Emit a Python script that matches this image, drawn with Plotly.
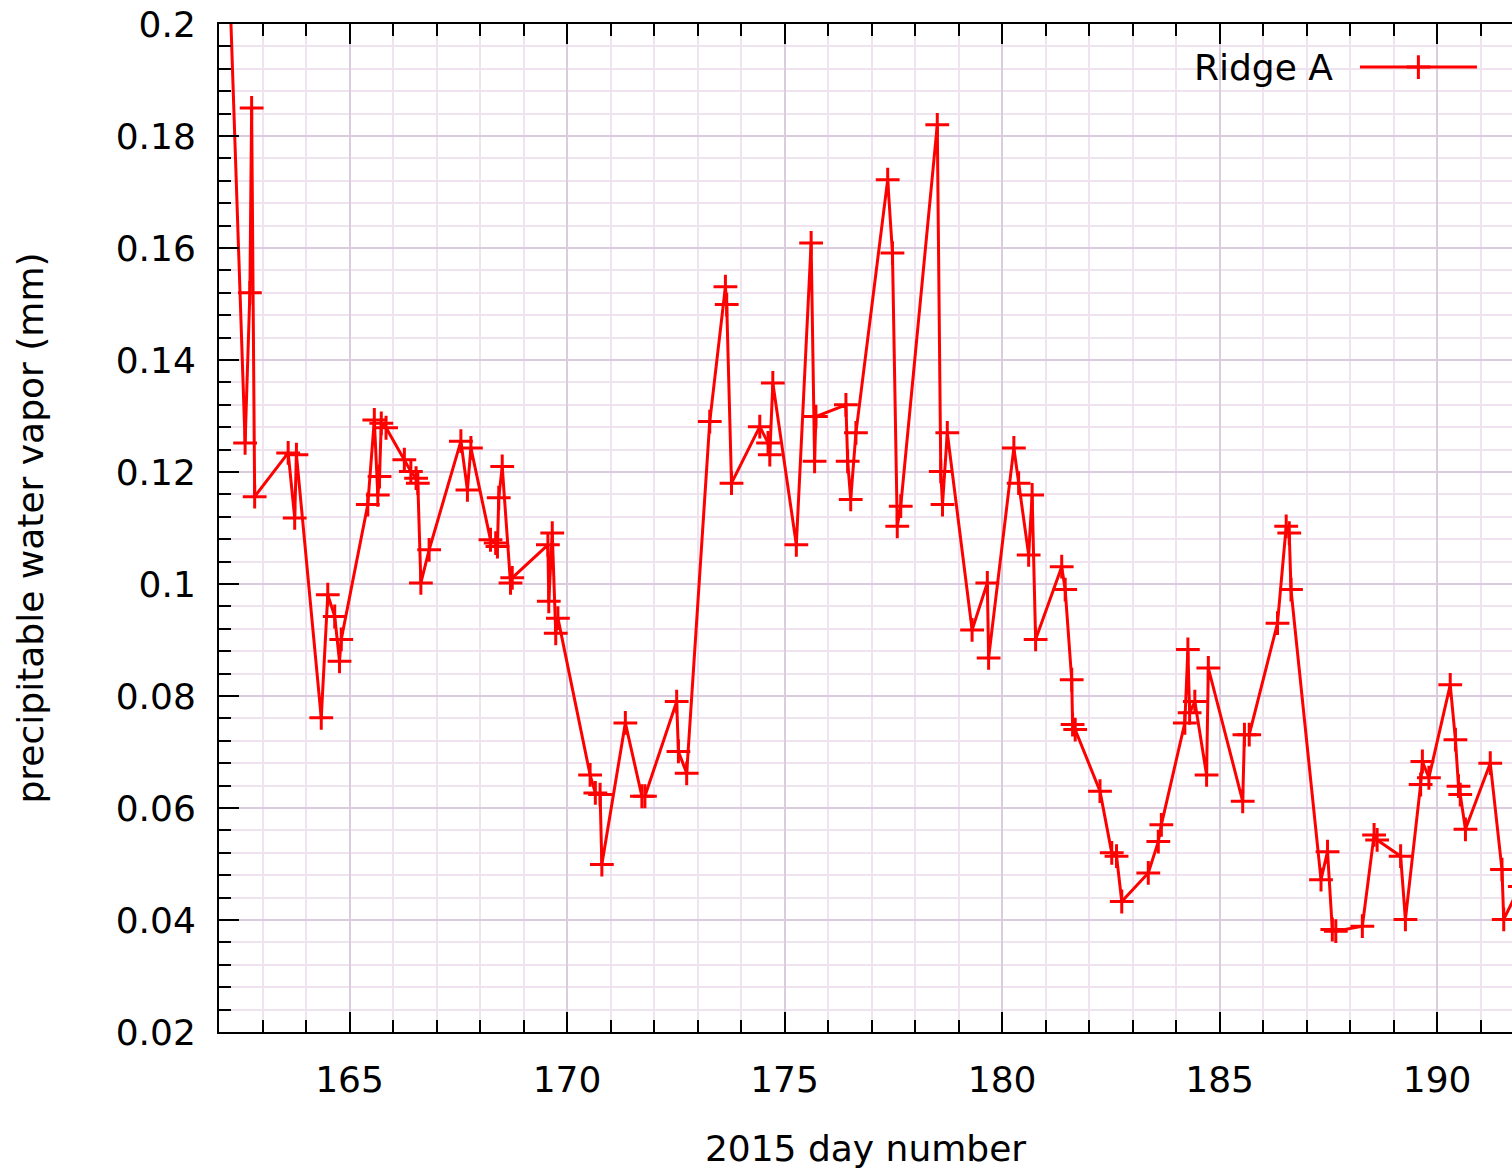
import plotly.graph_objects as go

# ---- data ----
day = [162.21, 162.60, 162.71, 162.75, 162.82, 163.59, 163.74, 163.78, 164.35, 164.50,
       164.66, 164.77, 164.81, 165.42, 165.57, 165.65, 165.69, 165.73, 165.84, 166.26,
       166.41, 166.53, 166.57, 166.64, 166.83, 167.56, 167.71, 167.79, 168.24, 168.36,
       168.40, 168.43, 168.51, 168.70, 168.74, 169.56, 169.58, 169.66, 169.74, 169.79,
       170.53, 170.65, 170.76, 170.80, 171.34, 171.72, 171.79, 172.52, 172.56, 172.75,
       173.28, 173.64, 173.67, 173.78, 174.43, 174.62, 174.66, 174.73, 175.27, 175.61,
       175.69, 175.72, 176.41, 176.45, 176.52, 176.64, 177.37, 177.48, 177.59, 177.67,
       178.51, 178.59, 178.63, 178.74, 179.31, 179.66, 179.69, 180.27, 180.38, 180.61,
       180.69, 180.77, 181.37, 181.45, 181.60, 181.62, 181.68, 182.25, 182.52, 182.63,
       182.75, 183.36, 183.59, 183.66, 184.20, 184.27, 184.31, 184.43, 184.70, 184.74,
       185.53, 185.57, 185.68, 186.33, 186.53, 186.60, 186.64, 187.33, 187.48, 187.59,
       187.67, 188.28, 188.55, 188.62, 189.16, 189.27, 189.62, 189.66, 189.81, 190.30,
       190.42, 190.49, 190.53, 190.65, 191.22, 191.49, 191.53, 191.90]
pwv = [0.215, 0.1252, 0.152, 0.185, 0.1156, 0.1234, 0.1118, 0.1231, 0.0761, 0.0981,
       0.0942, 0.0862, 0.0901, 0.1142, 0.1293, 0.1159, 0.1192, 0.1287, 0.1279, 0.1222,
       0.1201, 0.1189, 0.1180, 0.1002, 0.1061, 0.1255, 0.1168, 0.1243, 0.1079, 0.1073,
       0.1067, 0.1154, 0.1210, 0.1002, 0.1011, 0.1070, 0.0969, 0.1091, 0.0912, 0.0939,
       0.0659, 0.0627, 0.0624, 0.0499, 0.0752, 0.0621, 0.0621, 0.0790, 0.0701, 0.0662,
       0.1290, 0.1531, 0.1499, 0.1180, 0.1281, 0.1252, 0.1231, 0.1359, 0.1070, 0.1609,
       0.1219, 0.1299, 0.1320, 0.1219, 0.1151, 0.1270, 0.1722, 0.1591, 0.1103, 0.1139,
       0.1820, 0.1201, 0.1142, 0.1270, 0.0918, 0.1002, 0.0868, 0.1243, 0.1180, 0.1052,
       0.1159, 0.0901, 0.1031, 0.0990, 0.0829, 0.0749, 0.0740, 0.0630, 0.0520, 0.0514,
       0.0433, 0.0484, 0.0540, 0.0570, 0.0752, 0.0883, 0.0770, 0.0790, 0.0659, 0.0850,
       0.0612, 0.0731, 0.0731, 0.0930, 0.1103, 0.1091, 0.0990, 0.0472, 0.0522, 0.0383,
       0.0380, 0.0389, 0.0552, 0.0543, 0.0514, 0.0401, 0.0642, 0.0683, 0.0654, 0.0820,
       0.0722, 0.0639, 0.0624, 0.0562, 0.0680, 0.0490, 0.0401, 0.0460]

x_ticks = [165, 170, 175, 180, 185, 190]
y_ticks = [0.02, 0.04, 0.06, 0.08, 0.1, 0.12, 0.14, 0.16, 0.18, 0.2]
y_tick_text = ["0.02", "0.04", "0.06", "0.08", "0.1", "0.12", "0.14", "0.16", "0.18", "0.2"]
series_name = "Ridge A"

RED = "#ff0000"
FONT = "DejaVu Sans"
MAJOR_GRID = "#dacbdf"
MINOR_GRID = "#eee3ef"
LW = 3
MARKER = dict(symbol="cross-thin", size=17, color=RED, line=dict(color=RED, width=3))

fig = go.Figure()
fig.add_trace(go.Scatter(
    x=day, y=pwv, mode="lines+markers", name=series_name,
    line=dict(color=RED, width=LW), marker=MARKER,
    showlegend=False, cliponaxis=True,
))

# legend sample (gnuplot style: text left, sample right) drawn on an overlay 0..1 axis pair
fig.add_trace(go.Scatter(
    x=[0.8824, 0.9729], y=[0.9573, 0.9573], xaxis="x2", yaxis="y2",
    mode="lines", line=dict(color=RED, width=LW), showlegend=False, hoverinfo="skip",
))
fig.add_trace(go.Scatter(
    x=[0.9276], y=[0.9573], xaxis="x2", yaxis="y2",
    mode="markers", marker=MARKER, showlegend=False, hoverinfo="skip",
))

fig.update_layout(
    width=1512, height=1169,
    margin=dict(l=219, r=0, t=24, b=137, autoexpand=False),
    paper_bgcolor="white", plot_bgcolor="white",
    font=dict(family=FONT, size=36, color="black"),
    showlegend=False,
    xaxis=dict(
        range=[162, 191.72], tickmode="array", tickvals=x_ticks,
        ticks="inside", ticklen=20, tickwidth=2, tickcolor="black",
        showline=True, linecolor="black", linewidth=2, mirror="ticks",
        showgrid=True, gridcolor=MAJOR_GRID, gridwidth=2,
        zeroline=False, ticklabelstandoff=15, ticklabeloverflow="allow",
        minor=dict(tickmode="linear", tick0=162, dtick=1, ticks="inside", ticklen=12,
                   tickwidth=2, tickcolor="black", showgrid=True, gridcolor=MINOR_GRID, gridwidth=1.5),
        title=dict(text="2015 day number", standoff=39, font=dict(size=36)),
        automargin=False,
    ),
    yaxis=dict(
        range=[0.02, 0.2], tickmode="array", tickvals=y_ticks, ticktext=y_tick_text,
        ticks="inside", ticklen=20, tickwidth=2, tickcolor="black",
        showline=True, linecolor="black", linewidth=2, mirror=False,
        showgrid=True, gridcolor=MAJOR_GRID, gridwidth=2,
        zeroline=False, ticklabelstandoff=14, ticklabeloverflow="allow",
        minor=dict(tickmode="linear", tick0=0.02, dtick=0.004, ticks="inside", ticklen=12,
                   tickwidth=2, tickcolor="black", showgrid=True, gridcolor=MINOR_GRID, gridwidth=1.5),
        title=dict(text="precipitable water vapor (mm)", standoff=61, font=dict(size=36)),
        automargin=False,
    ),
    xaxis2=dict(range=[0, 1], overlaying="x", visible=False, fixedrange=True),
    yaxis2=dict(range=[0, 1], overlaying="y", visible=False, fixedrange=True),
    shapes=[dict(type="rect", xref="paper", yref="paper", x0=0.7413, x1=0.9892,
                 y0=0.9365, y1=0.9841, fillcolor="white", line=dict(width=0), layer="between")],
    annotations=[dict(text=series_name, xref="paper", yref="paper", x=0.8631, y=0.9573,
                      xanchor="right", yanchor="middle", showarrow=False,
                      font=dict(family=FONT, size=36, color="black"))],
)

fig.write_html("out.html", config={"displayModeBar": False},
               post_script="document.body.style.margin='0';document.body.style.overflow='hidden';")
